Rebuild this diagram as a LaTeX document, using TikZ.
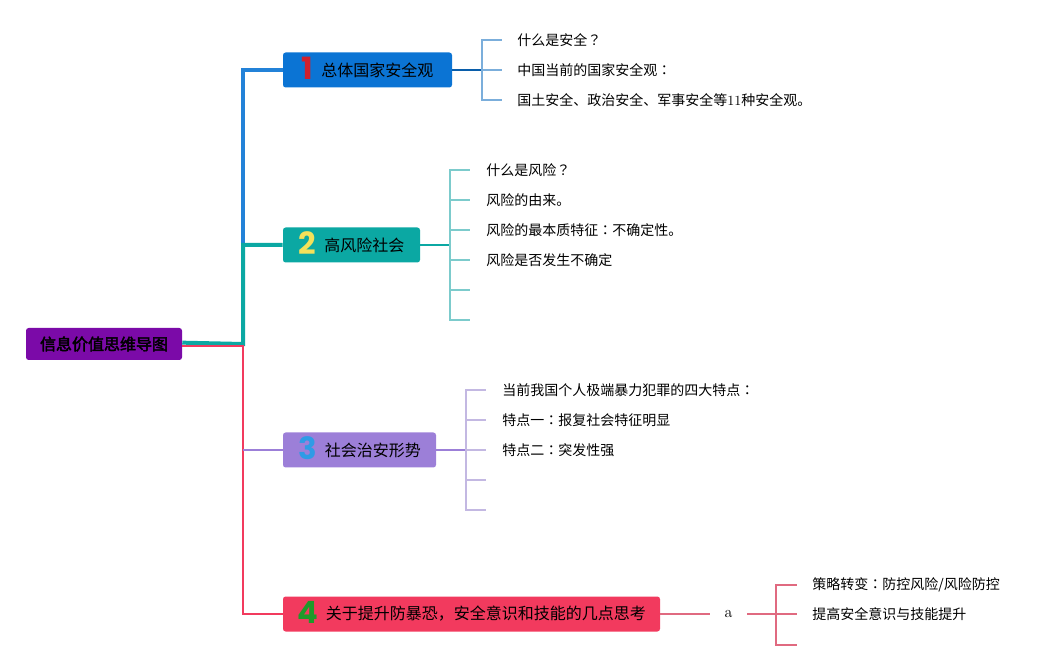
\documentclass[tikz,border=0pt]{standalone}
\usepackage{fontspec}
\newfontfamily\cjk[AutoFakeBold=2.5]{Noto Sans CJK SC}
\newfontfamily\cjkp{Noto Sans CJK TC}
\newfontfamily\numfont{Poppins}
\usetikzlibrary{positioning}
\definecolor{rootc}{HTML}{7B0AA8}
\definecolor{boxA}{HTML}{0B74D4}
\definecolor{boxB}{HTML}{0BA8A3}
\definecolor{boxC}{HTML}{9C7FD8}
\definecolor{boxD}{HTML}{F23A5E}
\definecolor{numA}{HTML}{D0202E}
\definecolor{numB}{HTML}{F3E15A}
\definecolor{numC}{HTML}{2E9BE6}
\definecolor{numD}{HTML}{1E9A2A}
\definecolor{twigA}{HTML}{7BAEDB}
\definecolor{twigB}{HTML}{7CCBCC}
\definecolor{twigC}{HTML}{C3B8E2}
\definecolor{twigD}{HTML}{E06A80}
\newcommand\topicnum[2]{\smash{\raisebox{-2.5pt}{\numfont\bfseries\fontsize{23}{23}\selectfont\color{#1}#2}}\hspace{6pt}}
\newcommand\pct[1]{{\cjkp #1}}

\begin{document}
\begin{tikzpicture}
[x=0.75pt,y=-0.75pt,%
  every node/.style={inner sep=0pt},%
  topic/.style={rounded corners=2pt,minimum height=26.25pt,font=\cjk\fontsize{12}{14}\selectfont},%
  leaf/.style={anchor=west,inner xsep=11.25pt,font=\cjk\fontsize{10.5}{12}\selectfont},%
  twig/.style={line width=1.1pt}]
\useasboundingbox (0,0) rectangle (1058,670);
%% root
\node[topic,fill=rootc,minimum width=117pt,minimum height=24pt,
  font=\cjk\bfseries\fontsize{12}{14}\selectfont] (r) at (104,344) {信息价值思维导图};
%% main topics
\node[topic,fill=boxA,minimum width=126.75pt] (t1) at (367.5,70) {\topicnum{numA}{1}总体国家安全观};
\node[topic,fill=boxB,minimum width=102.75pt] (t2) at (351.5,245) {\topicnum{numB}{2}高风险社会};
\node[topic,fill=boxC,minimum width=114.75pt] (t3) at (359.5,450) {\topicnum{numC}{3}社会治安形势};
\node[topic,fill=boxD,minimum width=282.75pt] (t4) at (471.5,614) {\topicnum{numD}{4}关于提升防暴恐，安全意识和技能的几点思考};
%% trunk
\coordinate (jt) at (243,245);
\coordinate (jr) at (243,344);
\draw[line width=3pt,color=boxA!90!white] (t1.west) -| (jt);
\draw[line width=3pt,color=boxB] (t2.west) -| (jr) -- ([yshift=1pt]r.east);
\draw[line width=1.6pt,color=boxD] (t4.west) -| ([yshift=-1.5pt]jr) -- ([yshift=-1.5pt]r.east);
\draw[line width=2pt,color=boxC] (t3.west) -- (t3.west -| jr);
%% topic 1
\coordinate (k1) at (482,70);
\draw[line width=1.6pt,color=boxA!80!black] (t1.east) -- (k1);
\foreach \leafY/\leafText in {40/{什么是安全\pct{？}},70/{中国当前的国家安全观\pct{：}},
  100/{国土安全、政治安全、军事安全等{\rmfamily 11}种安全观。}}
{
  \node[leaf] (la-\leafY) at (502,\leafY) {\leafText};
  \draw[twig,color=twigA] (k1) |- (la-\leafY.west);
}
%% topic 2
\coordinate (k2) at (450,245);
\draw[line width=1.6pt,color=boxB] (t2.east) -- (k2);
\foreach \leafY/\leafText in {170/{什么是风险\pct{？}},200/{风险的由来。},
  230/{风险的最本质特征\pct{：}不确定性。},260/{风险是否发生不确定},290/{},320/{}}
{
  \node[leaf,inner xsep=12pt] (lb-\leafY) at (470,\leafY) {\leafText};
  \draw[twig,color=twigB] (k2) |- (lb-\leafY.west);
}
%% topic 3
\coordinate (k3) at (466,450);
\draw[line width=1.6pt,color=boxC] (t3.east) -- (k3);
\foreach \leafY/\leafText in {390/{当前我国个人极端暴力犯罪的四大特点\pct{：}},
  420/{特点一\pct{：}报复社会特征明显},450/{特点二\pct{：}突发性强},480/{},510/{}}
{
  \node[leaf,inner xsep=12pt] (lc-\leafY) at (486,\leafY) {\leafText};
  \draw[twig,color=twigC] (k3) |- (lc-\leafY.west);
}
%% topic 4
\node[minimum width=27.75pt,font=\rmfamily\fontsize{12}{14}\selectfont] (a) at (728.5,614) {a};
\coordinate (k4) at (776,614);
\draw[twig,color=twigD] (t4.east) -- (a.west);
\draw[twig,color=twigD] (a.east) -- (k4);
\foreach \leafY/\leafText in {585/{策略转变\pct{：}防控风险/风险防控},614/{提高安全意识与技能提升},645/{}}
{
  \node[leaf] (ld-\leafY) at (797,\leafY) {\leafText};
  \draw[twig,color=twigD] (k4) |- (ld-\leafY.west);
}
\end{tikzpicture}
\end{document}
